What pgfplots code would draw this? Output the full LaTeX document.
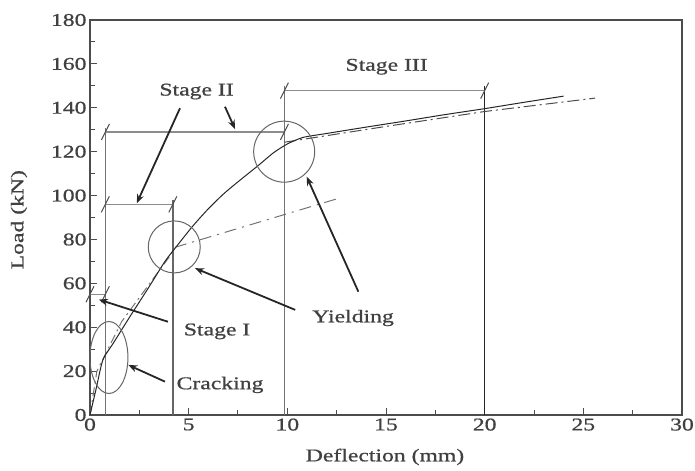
\documentclass[border=0pt]{standalone}
\usepackage{pgfplots}
\pgfplotsset{compat=1.18}
\usepackage{fontspec}
\setmainfont{Liberation Serif}[FakeStretch=1.32, FakeBold=0.8]
\usetikzlibrary{arrows.meta}

\newcommand\lblfont{\fontsize{18}{21}\selectfont}
\tikzset{
  slash/.style={black!70, line width=1bp},
  ann/.style={black!85, line width=1.8bp, -{Stealth[length=9bp,width=7bp]}},
}

\begin{document}
\begin{tikzpicture}
\useasboundingbox (-90bp,-56bp) rectangle (605bp,415bp);
\begin{axis}[
  scale only axis, width=592bp, height=395bp,
  xmin=0, xmax=30, ymin=0, ymax=180,
  xtick={0,5,...,30}, ytick={0,20,...,180},
  minor x tick num=1, minor y tick num=1,
  xtick pos=bottom, ytick pos=left,
  tick align=inside,
  major tick length=7bp, minor tick length=5bp,
  axis line style={draw=black!70, line width=1.3bp},
  every tick/.style={black!70, line width=1bp},
  /pgf/number format/assume math mode=true,
  ticklabel style={font=\lblfont, text=black!75},
  xlabel={Deflection (mm)}, ylabel={Load (kN)},
  label style={font=\lblfont, text=black!75},
  xlabel style={at={(axis cs:14.95,-19.1)}, anchor=center},
  ylabel style={at={(axis cs:-3.6,89)}, anchor=center},
  clip=false,
]

% stage brackets: vertical limits
\addplot[black!55, line width=1.5bp] coordinates {(0.78,0) (0.78,131)};
\addplot[black!60, line width=1.5bp] coordinates {(4.2,0) (4.2,98)};
\addplot[black!55, line width=1.5bp] coordinates {(9.85,0) (9.85,150)};
\addplot[black!85, line width=1.3bp] coordinates {(20,0) (20,150)};

% stage brackets: horizontal spans
\addplot[black!45, line width=1.6bp] coordinates {(0,55) (0.78,55)};
\addplot[black!45, line width=1.6bp] coordinates {(0.78,96) (4.2,96)};
\addplot[black!45, line width=1.6bp] coordinates {(0.78,129) (9.85,129)};
\addplot[black!45, line width=1.6bp] coordinates {(9.85,147.8) (20,147.8)};

% end marks of the brackets
\draw[slash] (axis cs:0,55) ++(-4bp,-8bp) -- ++(8bp,16bp);
\draw[slash] (axis cs:0.78,55) ++(-4bp,-8bp) -- ++(8bp,16bp);
\draw[slash] (axis cs:0.78,96) ++(-4bp,-8bp) -- ++(8bp,16bp);
\draw[slash] (axis cs:4.2,96) ++(-4bp,-8bp) -- ++(8bp,16bp);
\draw[slash] (axis cs:0.78,129) ++(-4bp,-8bp) -- ++(8bp,16bp);
\draw[slash] (axis cs:9.85,129) ++(-4bp,-8bp) -- ++(8bp,16bp);
\draw[slash] (axis cs:9.85,147.8) ++(-4bp,-8bp) -- ++(8bp,16bp);
\draw[slash] (axis cs:20,147.8) ++(-4bp,-8bp) -- ++(8bp,16bp);

% analytical model
\addplot[black!55, line width=1bp, dash pattern=on 9bp off 4bp on 2bp off 4bp]
  coordinates {(0,0) (0.35,20) (1.6,42.5) (4.3,75.5)};
\addplot[black!55, line width=1bp, dash pattern=on 12bp off 6bp on 2bp off 6bp]
  coordinates {(4.3,76.4) (12.7,99)};
\addplot[black!70, line width=1bp, dash pattern=on 12bp off 4bp on 2bp off 4bp]
  coordinates {(9.85,124.3) (15,131.5) (20,138.3) (25.6,144.4)};

% measured load-deflection curve
\addplot[black!85, line width=1bp, smooth, tension=0.4] coordinates {
  (0,0) (0.3,11.5) (0.65,25) (1.2,33) (2,44.5) (3,58.5) (3.8,70)
  (4.4,77) (5.2,86) (6,94) (6.8,101) (7.6,107) (8.5,113.5) (9.3,119.5)
  (10,123.5) (10.8,126.5) (12,128.3) (14,131.2) (16,134) (18,136.9)
  (20,139.6) (22,142.5) (24,145.3)};

% highlighted regions
\draw[black!60, line width=1bp] (axis cs:0.96,26.2) ellipse [x radius=19bp, y radius=36bp];
\draw[black!60, line width=1bp] (axis cs:4.27,76.6) circle [radius=26bp];
\draw[black!60, line width=1bp] (axis cs:9.84,120) circle [radius=30.5bp];

% annotations
\draw[ann] (axis cs:4.56,139.8) -- (axis cs:2.37,96.5);
\draw[ann] (axis cs:6.84,140.5) -- (axis cs:7.35,130.3);
\draw[ann] (axis cs:3.95,42.5) -- (axis cs:0.45,52.6);
\draw[ann] (axis cs:10.4,47.9) -- (axis cs:5.32,66.9);
\draw[ann] (axis cs:13.6,56.2) -- (axis cs:10.98,108.6);
\draw[ann] (axis cs:3.8,15.2) -- (axis cs:1.94,22.8);

\node[font=\lblfont, text=black!75] at (axis cs:5.4,147.4) {Stage II};
\node[font=\lblfont, text=black!75] at (axis cs:15.03,158.7) {Stage III};
\node[font=\lblfont, text=black!75] at (axis cs:6.44,38.1) {Stage I};
\node[font=\lblfont, text=black!75] at (axis cs:13.33,44.2) {Yielding};
\node[font=\lblfont, text=black!75] at (axis cs:6.59,13.7) {Cracking};
\end{axis}
\end{tikzpicture}
\end{document}
